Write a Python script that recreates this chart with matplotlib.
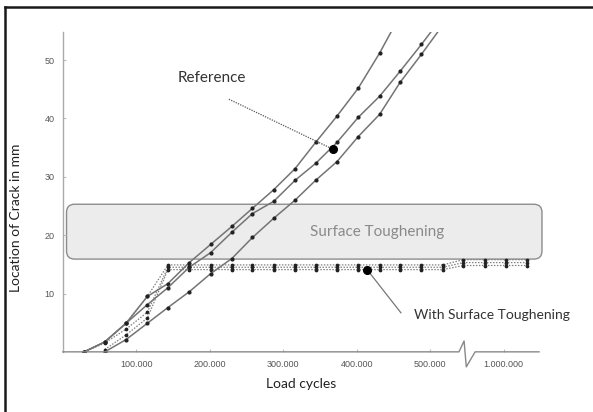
import matplotlib
matplotlib.use("Agg")
import matplotlib.pyplot as plt
import matplotlib.transforms as mtransforms
from matplotlib.patches import FancyBboxPatch
from matplotlib.lines import Line2D

# Load cycles (real values); the axis is broken between 545.000 and ~945.000
BREAK_AT = 545e3
BREAK_SHIFT = 400e3

# Reference curves (no surface treatment)
cycles_ref_a = [29e3, 57e3, 86e3, 115e3, 143e3, 172e3, 201e3, 230e3, 258e3, 287e3,
                316e3, 344e3, 373e3, 402e3, 431e3, 459e3]
crack_ref_a = [0, 1.7, 4.9, 9.5, 11.7, 15.3, 18.4, 21.5, 24.6, 27.8,
               31.4, 35.9, 40.4, 45.2, 51.2, 57.7]

cycles_ref_b = [29e3, 57e3, 86e3, 115e3, 143e3, 172e3, 201e3, 230e3, 258e3, 287e3,
                316e3, 344e3, 373e3, 402e3, 431e3, 459e3, 488e3, 517e3]
crack_ref_b = [0, 1.7, 4.9, 8.1, 11.0, 14.5, 17.0, 20.5, 23.7, 25.8,
               29.4, 32.3, 35.9, 40.2, 43.8, 48.1, 52.7, 57.5]

cycles_ref_c = [57e3, 86e3, 115e3, 143e3, 172e3, 201e3, 230e3, 258e3, 287e3,
                316e3, 344e3, 373e3, 402e3, 431e3, 459e3, 488e3, 517e3]
crack_ref_c = [0, 2.1, 4.9, 7.6, 10.3, 13.4, 16.0, 19.6, 22.9,
               26.0, 29.4, 32.6, 36.9, 40.7, 46.2, 51.0, 56.0]

# Curves with surface toughening
cycles_st = [29e3, 57e3, 86e3, 115e3, 143e3, 172e3, 201e3, 230e3, 258e3, 287e3,
             316e3, 344e3, 373e3, 402e3, 431e3, 459e3, 488e3, 517e3,
             945e3, 975e3, 1003e3, 1032e3]
crack_st_1 = [0, 1.7, 4.9, 9.5, 14.9, 14.9, 14.9, 14.9, 14.9, 14.9,
              14.9, 14.9, 14.9, 14.9, 14.9, 14.9, 14.9, 14.9,
              15.8, 15.8, 15.8, 15.8]
crack_st_2 = [0, 1.5, 3.9, 6.8, 14.5, 14.5, 14.5, 14.5, 14.5, 14.5,
              14.5, 14.5, 14.5, 14.5, 14.5, 14.5, 14.5, 14.5,
              15.3, 15.3, 15.3, 15.3]
crack_st_3 = [None, 0.4, 2.9, 5.8, 14.1, 14.1, 14.1, 14.1, 14.1, 14.1,
              14.1, 14.1, 14.1, 14.1, 14.1, 14.1, 14.1, 14.1,
              14.8, 14.8, 14.8, 14.8]

x_ticks = [100e3, 200e3, 300e3, 400e3, 500e3, 1000e3]
x_tick_labels = ["100.000", "200.000", "300.000", "400.000", "500.000", "1.000.000"]
y_ticks = [10, 20, 30, 40, 50]


def to_axis(c):
    # compress cycles beyond the axis break
    return c if c <= BREAK_AT else c - BREAK_SHIFT


def series(xs, ys):
    pts = [(to_axis(x), y) for x, y in zip(xs, ys) if y is not None]
    return [p[0] for p in pts], [p[1] for p in pts]


fig = plt.figure(figsize=(5.93, 4.12), dpi=100)
ax = fig.add_axes([0.106, 0.146, 0.803, 0.776])

line_col = "#747474"
for xs, ys in [(cycles_ref_a, crack_ref_a), (cycles_ref_b, crack_ref_b), (cycles_ref_c, crack_ref_c)]:
    px, py = series(xs, ys)
    ax.plot(px, py, color=line_col, lw=1.1, marker="o", ms=2.0,
            mfc="#222", mec="#222", zorder=3)

for ys in [crack_st_1, crack_st_2, crack_st_3]:
    px, py = series(cycles_st, ys)
    ax.plot(px, py, color="#808080", lw=0.9, ls=(0, (1.2, 1.2)), marker="o", ms=1.7,
            mfc="#222", mec="#222", zorder=2)

ax.set_xlim(0, 648e3)
ax.set_ylim(0, 54.8)

# surface toughening zone
box = FancyBboxPatch((5e3, 15.9), 647e3, 9.4,
                     boxstyle="round,pad=0,rounding_size=11000",
                     mutation_aspect=1.26e-4, fc="#ececec", ec="#8c8c8c",
                     lw=1.0, zorder=1, clip_on=False)
ax.add_patch(box)
ax.text(428e3, 20.6, "Surface Toughening", fontsize=11, color="#8a8a8a",
        family="Lato", ha="center", va="center", zorder=4)

# annotations
ax.text(203e3, 47.0, "Reference", fontsize=11, color="#333", family="Lato",
        ha="center", va="center")
ax.plot([226e3, 368e3], [43.3, 34.7], color="#555", lw=0.9, ls=(0, (1, 1)), zorder=4)
ax.plot([368e3], [34.7], "o", color="black", ms=5.5, zorder=5)

ax.text(478e3, 6.4, "With Surface Toughening", fontsize=10, color="#333", family="Lato",
        ha="left", va="center")
ax.plot([460e3, 414e3], [6.7, 14.1], color="#777", lw=0.9, zorder=4)
ax.plot([414e3], [14.1], "o", color="black", ms=5.5, zorder=5)

# axes styling
for s in ["top", "right", "bottom"]:
    ax.spines[s].set_visible(False)
ax.spines["left"].set_color("#aaaaaa")
ax.spines["left"].set_linewidth(1.0)

ax.set_xticks([to_axis(x) for x in x_ticks])
ax.set_xticklabels(x_tick_labels)
ax.set_yticks(y_ticks)
ax.tick_params(length=2, color="#bbbbbb", direction="in", labelsize=6.5,
               labelcolor="#555555", pad=6)
for lab in ax.get_xticklabels() + ax.get_yticklabels():
    lab.set_family("Liberation Sans")

# x axis line with break symbol
trans = mtransforms.blended_transform_factory(ax.transData, ax.transAxes)
ax.plot([0, 539e3, 546e3, 549e3, 561e3, 648e3], [0, 0, 0.034, -0.047, 0, 0],
        color="#888", lw=1.0, transform=trans, clip_on=False, zorder=3)

ax.set_xlabel("Load cycles", fontsize=10, family="Lato", color="#222", labelpad=6)
ax.set_ylabel("Location of Crack in mm", fontsize=10, family="Lato", color="#222")
ax.yaxis.set_label_coords(-0.085, 0.42)

# outer frame (left and top edges visible)
fig.add_artist(Line2D([4.5 / 593, 4.5 / 593], [0, 1 - 7 / 412], color="#1a1a1a", lw=1.8,
                      transform=fig.transFigure))
fig.add_artist(Line2D([4.5 / 593, 1], [1 - 7 / 412, 1 - 7 / 412], color="#1a1a1a", lw=1.8,
                      transform=fig.transFigure))

fig.savefig("out.png", dpi=100)
